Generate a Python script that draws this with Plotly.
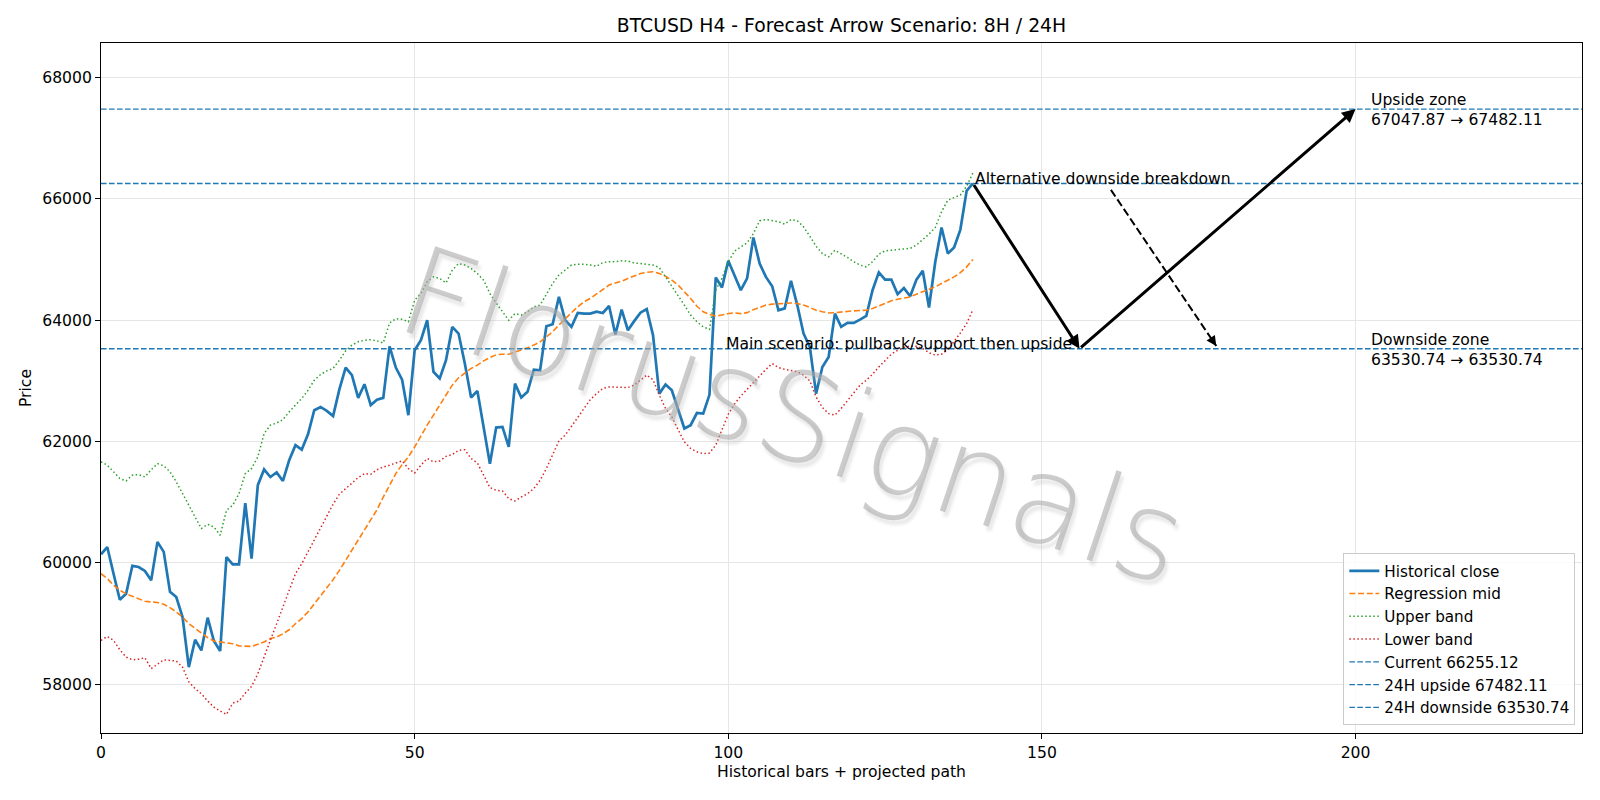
import plotly.graph_objects as go

# ---------------- data ----------------
bars = list(range(140))

close = [60140, 60260, 59820, 59390, 59490, 59950, 59930, 59865, 59710, 60345,
         60180, 59520, 59435, 59105, 58280, 58730, 58555, 59095, 58710, 58545,
         60095, 59975, 59975, 60985, 60070, 61280, 61540, 61415, 61490, 61350,
         61690, 61940, 61865, 62120, 62515, 62570, 62505, 62420, 62860, 63220,
         63095, 62720, 62945, 62600, 62690, 62720, 63570, 63220, 63020, 62435,
         63505, 63670, 64000, 63150, 63040, 63340, 63890, 63780, 63285, 62725,
         62835, 62240, 61635, 62230, 62240, 61910, 62955, 62725, 62820, 63185,
         63175, 63900, 63935, 64385, 64000, 63890, 64120, 64110, 64110, 64140,
         64120, 64235, 63765, 64175, 63835, 63985, 64125, 64185, 63755, 62790,
         62940, 62845, 62515, 62215, 62270, 62470, 62460, 62770, 64705, 64540,
         64980, 64745, 64495, 64690, 65365, 64935, 64715, 64560, 64165, 64195,
         64650, 64250, 63780, 63560, 62790, 63230, 63395, 64110, 63890, 63955,
         63955, 64010, 64070, 64495, 64790, 64670, 64670, 64430, 64530, 64395,
         64670, 64815, 64210, 64965, 65530, 65100, 65200, 65495, 66135, 66255.12]

mid = [59820, 59740, 59630, 59545, 59490, 59445, 59410, 59365, 59355, 59345,
       59315, 59260, 59190, 59105, 58995, 58915, 58830, 58765, 58710, 58695,
       58675, 58665, 58630, 58620, 58620, 58655, 58695, 58750, 58775, 58830,
       58895, 58995, 59080, 59190, 59325, 59445, 59575, 59720, 59875, 60040,
       60215, 60370, 60535, 60710, 60875, 61085, 61280, 61470, 61620, 61745,
       61910, 62100, 62270, 62435, 62600, 62765, 62930, 63050, 63130, 63205,
       63260, 63330, 63385, 63430, 63440, 63440, 63475, 63505, 63545, 63590,
       63645, 63725, 63810, 63920, 64030, 64125, 64220, 64305, 64360, 64430,
       64505, 64580, 64615, 64645, 64690, 64725, 64770, 64790, 64800, 64770,
       64725, 64660, 64580, 64470, 64360, 64230, 64140, 64095, 64070, 64085,
       64110, 64120, 64110, 64125, 64175, 64210, 64250, 64265, 64275, 64280,
       64285, 64275, 64250, 64210, 64165, 64140, 64120, 64125, 64140, 64145,
       64155, 64160, 64165, 64195, 64240, 64275, 64320, 64345, 64370, 64385,
       64430, 64470, 64505, 64550, 64605, 64660, 64715, 64785, 64880, 65000]

upper = [61665, 61610, 61500, 61390, 61350, 61445, 61455, 61415, 61535, 61635,
         61600, 61500, 61335, 61140, 60965, 60765, 60565, 60635, 60590, 60455,
         60865, 60950, 61140, 61470, 61555, 61745, 62130, 62270, 62305, 62360,
         62490, 62600, 62710, 62845, 63010, 63105, 63165, 63205, 63340, 63495,
         63590, 63645, 63670, 63680, 63660, 63625, 63955, 64025, 64015, 63975,
         64330, 64440, 64635, 64715, 64690, 64615, 64825, 64935, 64910, 64855,
         64770, 64660, 64440, 64285, 64140, 64000, 64110, 64085, 64140, 64220,
         64250, 64430, 64605, 64745, 64835, 64910, 64925, 64925, 64910, 64890,
         64950, 64965, 64965, 64980, 64975, 64945, 64935, 64925, 64910, 64870,
         64715, 64580, 64415, 64250, 64085, 63975, 63890, 63850, 64495, 64690,
         64965, 65140, 65210, 65275, 65430, 65640, 65660, 65640, 65625, 65585,
         65660, 65640, 65540, 65385, 65220, 65100, 65045, 65155, 65100, 65035,
         64965, 64910, 64880, 64965, 65090, 65145, 65155, 65165, 65165, 65185,
         65240, 65330, 65420, 65530, 65790, 65980, 66025, 66065, 66210, 66430]

lower = [58720, 58785, 58720, 58565, 58445, 58400, 58410, 58435, 58255, 58335,
         58400, 58390, 58380, 58280, 58035, 57925, 57840, 57720, 57620, 57555,
         57500, 57685, 57720, 57850, 57960, 58170, 58445, 58730, 58995, 59280,
         59575, 59820, 59985, 60180, 60370, 60565, 60755, 60965, 61130, 61225,
         61305, 61405, 61470, 61460, 61535, 61580, 61610, 61645, 61680, 61555,
         61480, 61610, 61720, 61665, 61680, 61755, 61785, 61855, 61865, 61720,
         61645, 61445, 61240, 61195, 61185, 61060, 61020, 61085, 61140, 61225,
         61360, 61555, 61790, 62010, 62105, 62240, 62395, 62545, 62690, 62790,
         62875, 62900, 62900, 62900, 62890, 62930, 63010, 63095, 63020, 62765,
         62545, 62405, 62195, 61995, 61885, 61830, 61800, 61810, 61940, 62200,
         62450, 62620, 62750, 62860, 62975, 63080, 63190, 63285, 63220, 63190,
         63175, 63150, 63095, 63000, 62735, 62560, 62460, 62435, 62545, 62670,
         62800, 62930, 63010, 63110, 63230, 63340, 63440, 63505, 63550, 63575,
         63570, 63535, 63465, 63425, 63440, 63515, 63645, 63790, 63945, 64175]

CURRENT = 66255.12
UP_24H = 67482.11
DOWN_24H = 63530.74
UP_ZONE_LOW = 67047.87
DOWN_ZONE_LOW = 63530.74

# projected scenario paths (bar index, price)
main_path_x = [139, 156, 200]
main_path_y = [CURRENT, DOWN_24H, UP_24H]
alt_path_x = [161, 177.8]
alt_path_y = [66150, 63575]

X_RANGE = [0, 236.1]
Y_RANGE = [57193, 68572]
X_TICKS = [0, 50, 100, 150, 200]
Y_TICKS = [58000, 60000, 62000, 64000, 66000, 68000]

FONT = "DejaVu Sans"
FS = 15.6
BLUE = "#1f77b4"

fig = go.Figure()

fig.add_trace(go.Scatter(x=bars, y=close, mode="lines", name="Historical close",
                         line=dict(color=BLUE, width=2.7)))
fig.add_trace(go.Scatter(x=bars, y=mid, mode="lines", name="Regression mid",
                         line=dict(color="#ff7f0e", width=1.6, dash="6px,2.7px")))
fig.add_trace(go.Scatter(x=bars, y=upper, mode="lines", name="Upper band",
                         line=dict(color="#2ca02c", width=1.5, dash="1.5px,2.5px")))
fig.add_trace(go.Scatter(x=bars, y=lower, mode="lines", name="Lower band",
                         line=dict(color="#d62728", width=1.5, dash="1.5px,2.5px")))

for val, label in [(CURRENT, f"Current {CURRENT:.2f}"),
                   (UP_24H, f"24H upside {UP_24H:.2f}"),
                   (DOWN_24H, f"24H downside {DOWN_24H:.2f}")]:
    fig.add_trace(go.Scatter(x=X_RANGE, y=[val, val], mode="lines", name=label,
                             line=dict(color=BLUE, width=1.4, dash="5.6px,2.4px")))

# alternative scenario dashed arrow shaft
fig.add_trace(go.Scatter(x=alt_path_x, y=alt_path_y, mode="lines", showlegend=False,
                         hoverinfo="skip",
                         line=dict(color="black", width=2, dash="8px,3.5px")))

annotations = [
    # watermark
    dict(x=0.4676, y=0.46, xref="paper", yref="paper", text="FlorusSignals",
         showarrow=False, textangle=18.5, xanchor="center", yanchor="middle",
         font=dict(family=FONT, size=124, weight=200,
                   color="rgba(170,170,170,0.6)",
                   shadow="4px 4px 3px rgba(175,175,175,0.45)")),
]
# main scenario arrows
for i in range(len(main_path_x) - 1):
    annotations.append(dict(
        x=main_path_x[i + 1], y=main_path_y[i + 1],
        ax=main_path_x[i], ay=main_path_y[i],
        xref="x", yref="y", axref="x", ayref="y",
        showarrow=True, arrowhead=2, arrowsize=0.9, arrowwidth=3,
        arrowcolor="black", text=""))
# head of alternative arrow
annotations.append(dict(
    x=alt_path_x[1], y=alt_path_y[1], xref="x", yref="y",
    ax=-5.6, ay=-8.3, axref="pixel", ayref="pixel",
    showarrow=True, arrowhead=2, arrowsize=1.0, arrowwidth=2,
    arrowcolor="black", text=""))

annotations += [
    dict(x=main_path_x[0], y=CURRENT, xref="x", yref="y",
         text="Alternative downside breakdown", showarrow=False,
         xanchor="left", yanchor="bottom", yshift=-7,
         font=dict(family=FONT, size=FS, color="black")),
    dict(x=99.3, y=DOWN_24H, xref="x", yref="y",
         text="Main scenario: pullback/support then upside", showarrow=False,
         xanchor="left", yanchor="bottom", yshift=-6,
         font=dict(family=FONT, size=FS, color="black")),
    dict(x=202.2, y=UP_24H, xref="x", yref="y",
         text=f"Upside zone<br>{UP_ZONE_LOW:.2f} → {UP_24H:.2f}", showarrow=False,
         xanchor="left", yanchor="middle", align="left", yshift=-1,
         font=dict(family=FONT, size=FS, color="black")),
    dict(x=202.2, y=DOWN_24H, xref="x", yref="y",
         text=f"Downside zone<br>{DOWN_ZONE_LOW:.2f} → {DOWN_24H:.2f}", showarrow=False,
         xanchor="left", yanchor="middle", align="left", yshift=-1,
         font=dict(family=FONT, size=FS, color="black")),
]

axis_common = dict(showline=True, linecolor="black", linewidth=1, mirror=True,
                   ticks="outside", ticklen=5, tickcolor="black", tickwidth=1,
                   showgrid=True, gridcolor="#e6e6e6", gridwidth=1.1,
                   zeroline=False,
                   tickfont=dict(family=FONT, size=FS, color="black"))

fig.update_layout(
    width=1600, height=800,
    margin=dict(l=101, r=18, t=43, b=67),
    paper_bgcolor="white", plot_bgcolor="white",
    title=dict(text="BTCUSD H4 - Forecast Arrow Scenario: 8H / 24H",
               x=0.5, xref="paper", y=1 - 25.5 / 800, yref="container",
               xanchor="center", yanchor="middle",
               font=dict(family=FONT, size=18.8, color="black")),
    xaxis=dict(range=X_RANGE, tickvals=X_TICKS,
               title=dict(text="Historical bars + projected path", standoff=5,
                          font=dict(family=FONT, size=FS, color="black")),
               **axis_common),
    yaxis=dict(range=Y_RANGE, tickvals=Y_TICKS, tickformat="d",
               title=dict(text="Price", standoff=6,
                          font=dict(family=FONT, size=FS, color="black")),
               **axis_common),
    legend=dict(x=0.9955, y=0.011, xanchor="right", yanchor="bottom",
                bgcolor="rgba(255,255,255,0.8)", bordercolor="#cccccc",
                borderwidth=1, tracegroupgap=0,
                font=dict(family=FONT, size=15.2, color="black")),
    annotations=annotations,
    showlegend=True,
)

fig.write_html("out.html")
